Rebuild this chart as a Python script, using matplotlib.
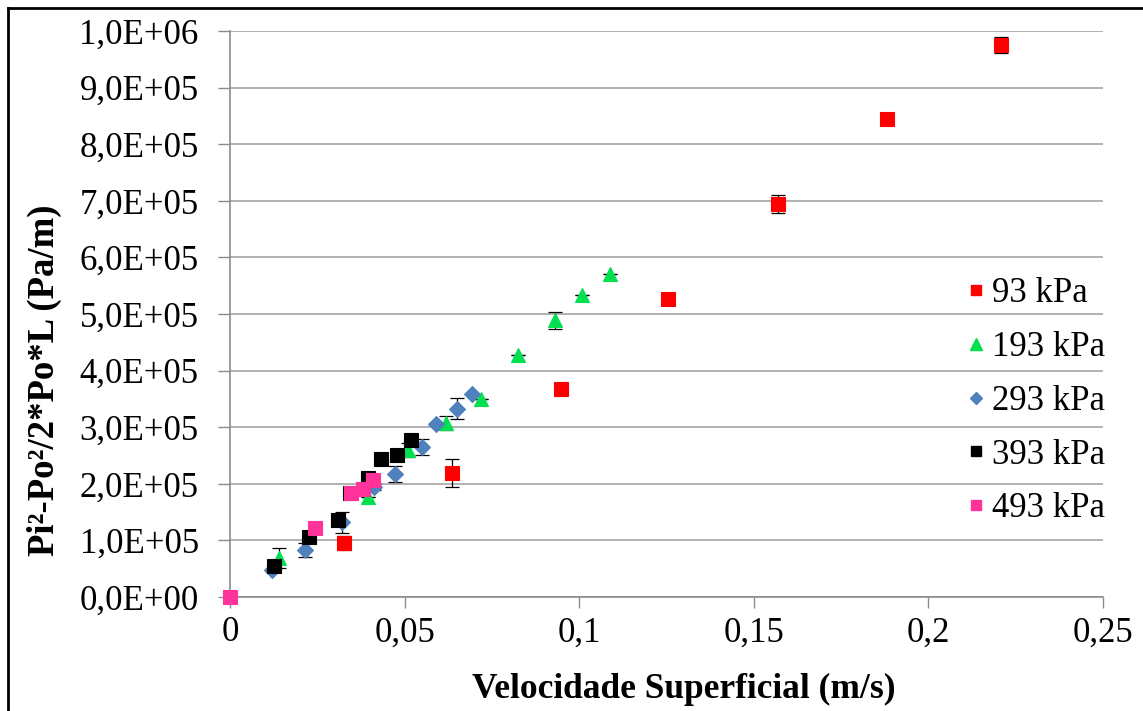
import matplotlib
matplotlib.use("Agg")
import matplotlib.pyplot as plt
from matplotlib.ticker import FuncFormatter, MultipleLocator
from matplotlib.lines import Line2D

# Superficial velocity (m/s) and pressure-drop term (Pa/m) for each inlet pressure
labels = ["93 kPa", "193 kPa", "293 kPa", "393 kPa", "493 kPa"]

x_93 = [0.0326, 0.0636, 0.0948, 0.1254, 0.1569, 0.1881, 0.2208]
y_93 = [95000, 219000, 367000, 526000, 694000, 845000, 975000]
e_93 = [12000, 25000, 0, 0, 16000, 0, 14000]

x_193 = [0.0140, 0.0395, 0.0510, 0.0619, 0.0719, 0.0825, 0.0930, 0.1008, 0.1088]
y_193 = [69000, 177000, 260000, 307000, 350000, 428000, 489000, 534000, 571000]
e_193 = [18000, 0, 12000, 12000, 0, 0, 15000, 0, 0]

x_293 = [0.0120, 0.0215, 0.0320, 0.0412, 0.0473, 0.0550, 0.0590, 0.0650, 0.0693]
y_293 = [48000, 83000, 132000, 194000, 217000, 265000, 306000, 333000, 358000]
e_293 = [0, 12000, 19000, 5000, 14000, 14000, 0, 19000, 0]

x_393 = [0.0126, 0.0227, 0.0310, 0.0344, 0.0396, 0.0433, 0.0479, 0.0518]
y_393 = [55000, 106000, 136000, 184000, 210000, 244000, 251000, 277000]
e_393 = [0, 9000, 10000, 0, 0, 0, 0, 0]

x_493 = [0.0, 0.0244, 0.0346, 0.0380, 0.0410]
y_493 = [0, 122000, 184000, 190000, 207000]
e_493 = [0, 10000, 0, 0, 0]

colors = ["#FF0000", "#00E050", "#4F81BD", "#000000", "#FF3399"]
markers = ["s", "^", "D", "s", "s"]
msizes = [9.5, 10.5, 7.8, 9.5, 9.5]

series = [(x_93, y_93, e_93), (x_193, y_193, e_193), (x_293, y_293, e_293),
          (x_393, y_393, e_393), (x_493, y_493, e_493)]

plt.rcParams["font.family"] = ["Liberation Serif", "DejaVu Serif"]

W, H = 1143, 711
fig = plt.figure(figsize=(W / 100, H / 100), dpi=100)
ax = fig.add_axes([230 / W, (H - 597) / H, (1103 - 230) / W, (597 - 31) / H])

grid_gray = "#ABABAB"
axis_gray = "#8C8C8C"

for (xs, ys, es), c, m, ms, lab in zip(series, colors, markers, msizes, labels):
    ax.errorbar(xs, ys, yerr=es, fmt="none", ecolor="black", elinewidth=0.9,
                capsize=5, capthick=0.9, zorder=3)
    ax.plot(xs, ys, linestyle="none", marker=m, markersize=ms, color=c,
            markeredgecolor=c, markeredgewidth=0.8, label=lab, zorder=4,
            clip_on=False)

ax.set_xlim(0, 0.25)
ax.set_ylim(0, 1.0e6)
ax.xaxis.set_major_locator(MultipleLocator(0.05))
ax.yaxis.set_major_locator(MultipleLocator(1.0e5))


def fmt_y(v, pos):
    return f"{v:.1E}".replace(".", ",")


def fmt_x(v, pos):
    return f"{round(v, 2):g}".replace(".", ",")


ax.yaxis.set_major_formatter(FuncFormatter(fmt_y))
ax.xaxis.set_major_formatter(FuncFormatter(fmt_x))

ax.grid(axis="y", color=grid_gray, linewidth=1.3)
ax.set_axisbelow(True)
for s in ("top", "right"):
    ax.spines[s].set_visible(False)
for s in ("left", "bottom"):
    ax.spines[s].set_color(axis_gray)
    ax.spines[s].set_linewidth(1.2)

ax.tick_params(axis="y", direction="out", length=8.5, width=1.0, color=axis_gray,
               pad=14, labelsize=25)
ax.tick_params(axis="x", direction="out", length=8, width=1.0, color=axis_gray,
               pad=6, labelsize=25)

ax.set_xlabel("Velocidade Superficial (m/s)", fontsize=25.5, fontweight="bold")
ax.xaxis.set_label_coords(0.52, -0.134)
ax.set_ylabel("Pi²-Po²/2*Po*L (Pa/m)", fontsize=26.5, fontweight="bold")
ax.yaxis.set_label_coords(-0.193, 0.383)

# legend with slightly smaller markers
handles = [Line2D([], [], linestyle="none", marker=m, color=c, markeredgecolor=c,
                  markersize=ms * 0.8)
           for c, m, ms in zip(colors, markers, msizes)]
ax.legend(handles, labels, loc="upper left", bbox_to_anchor=(964 / W, (H - 277) / H),
          bbox_transform=fig.transFigure, frameon=False, fontsize=25,
          handlelength=0.7, handletextpad=0.1, labelspacing=0.6,
          borderpad=0, borderaxespad=0)

# chart-area frame
fig.add_artist(Line2D([8 / W, 1.0], [1 - 8 / H, 1 - 8 / H], color="black",
                      linewidth=2.0, transform=fig.transFigure))
fig.add_artist(Line2D([8 / W, 8 / W], [0.0, 1 - 8 / H], color="black",
                      linewidth=2.0, transform=fig.transFigure))

fig.savefig("out.png", dpi=100)
